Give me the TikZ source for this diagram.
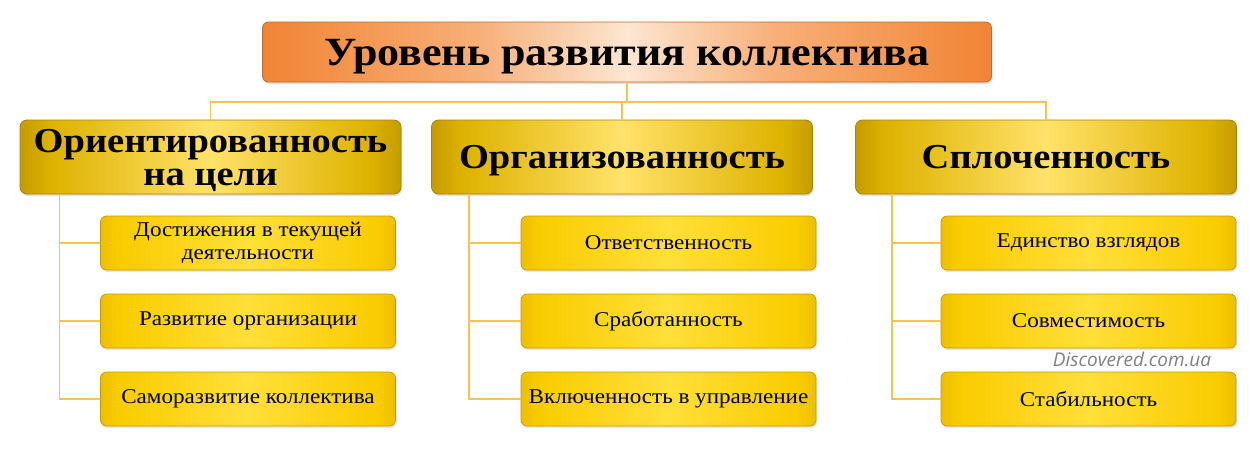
\documentclass[tikz,border=0pt]{standalone}
\usepackage{fontspec}
\setmainfont[FakeStretch=1.1]{Liberation Serif}
\newfontfamily\markfont{Open Sans}
\usetikzlibrary{positioning,shadows}
\definecolor{linegold}{HTML}{F5C450}
\definecolor{orangeedge}{HTML}{F08434}
\definecolor{orangelite}{HTML}{F7B07A}
\definecolor{orangemid}{HTML}{FCE6D2}
\definecolor{goldedge}{HTML}{C49C00}
\definecolor{goldbody}{HTML}{DDB200}
\definecolor{goldmid}{HTML}{FFE26A}
\definecolor{yellowedge}{HTML}{EDBE00}
\definecolor{yellowbody}{HTML}{F9CC00}
\definecolor{yellowmid}{HTML}{FFDF3A}
\pgfdeclarehorizontalshading{titleshade}{100bp}{color(0bp)=(orangeedge); color(25bp)=(orangeedge); color(40bp)=(orangelite); color(50bp)=(orangemid); color(60bp)=(orangelite); color(75bp)=(orangeedge); color(100bp)=(orangeedge)}
\pgfdeclarehorizontalshading{groupshade}{100bp}{color(0bp)=(goldedge); color(25bp)=(goldedge); color(29bp)=(goldbody); color(50bp)=(goldmid); color(71bp)=(goldbody); color(75bp)=(goldedge); color(100bp)=(goldedge)}
\pgfdeclarehorizontalshading{itemshade}{100bp}{color(0bp)=(yellowedge); color(25bp)=(yellowedge); color(28bp)=(yellowbody); color(50bp)=(yellowmid); color(72bp)=(yellowbody); color(75bp)=(yellowedge); color(100bp)=(yellowedge)}

\begin{document}
\begin{tikzpicture}[x=1pt,y=-1pt,
  every node/.style={align=center},
  titlebox/.style={draw=orangeedge!80!black,line width=0.8pt,rounded corners=6pt,shading=titleshade,
    minimum width=729pt,minimum height=60pt,text depth=0pt,font=\bfseries\fontsize{40}{40}\selectfont,
    drop shadow={opacity=0.25,shadow xshift=1pt,shadow yshift=-2pt}},
  groupbox/.style={draw=goldedge!85!black,line width=0.8pt,rounded corners=7pt,shading=groupshade,
    minimum width=381pt,minimum height=74pt,text depth=0pt,font=\bfseries\fontsize{35}{33}\selectfont,
    drop shadow={opacity=0.25,shadow xshift=1pt,shadow yshift=-2pt}},
  itembox/.style={draw=goldedge,line width=0.7pt,rounded corners=6pt,shading=itemshade,
    minimum width=295pt,minimum height=54pt,font=\fontsize{21}{23}\selectfont,
    drop shadow={opacity=0.2,shadow xshift=1pt,shadow yshift=-2pt}},
  link/.style={draw=linegold,line width=1.3pt}]
\useasboundingbox (0,0) rectangle (1257,458);
% top
\node[titlebox] (title) at (627,52) {Уровень развития коллектива};
\coordinate (hub) at (627,102);
% groups
\node[groupbox] (goals) at (210.5,157) {Ориентированность\\на цели};
\node[groupbox] (organ) at (622,157) {Организованность};
\node[groupbox] (unity) at (1046,157) {Сплоченность};
\draw[link] (title.south) -- (hub);
\draw[link] (goals.north) |- (hub) -| (unity.north);
\draw[link] (organ.north) -- (organ.north |- hub);
% items
\node[itembox] (g1) at (248,243) {Достижения в текущей\\деятельности};
\node[itembox] (g2) at (248,321) {Развитие организации};
\node[itembox] (g3) at (248,399) {Саморазвитие коллектива};
\node[itembox] (o1) at (668.5,243) {Ответственность};
\node[itembox] (o2) at (668.5,321) {Сработанность};
\node[itembox] (o3) at (668.5,399) {Включенность в управление};
\node[itembox] (u1) at (1088.5,243) {Единство взглядов};
\node[itembox] (u2) at (1088.5,321) {Совместимость};
\node[itembox] (u3) at (1088.5,399) {Стабильность};
% tree lines
\draw[link] ([xshift=40pt]goals.south west) |- (g3.west);
\draw[link] (g1.west) -- ++(-41,0);
\draw[link] (g2.west) -- ++(-41,0);
\draw[link] ([xshift=38pt]organ.south west) |- (o3.west);
\draw[link] (o1.west) -- ++(-51,0);
\draw[link] (o2.west) -- ++(-51,0);
\draw[link] ([xshift=37pt]unity.south west) |- (u3.west);
\draw[link] (u1.west) -- ++(-48,0);
\draw[link] (u2.west) -- ++(-48,0);
% watermark
\node[font=\markfont\itshape\fontsize{19}{20}\selectfont,text=black!50] (mark) at (1132,359) {Discovered.com.ua};
\end{tikzpicture}
\end{document}
